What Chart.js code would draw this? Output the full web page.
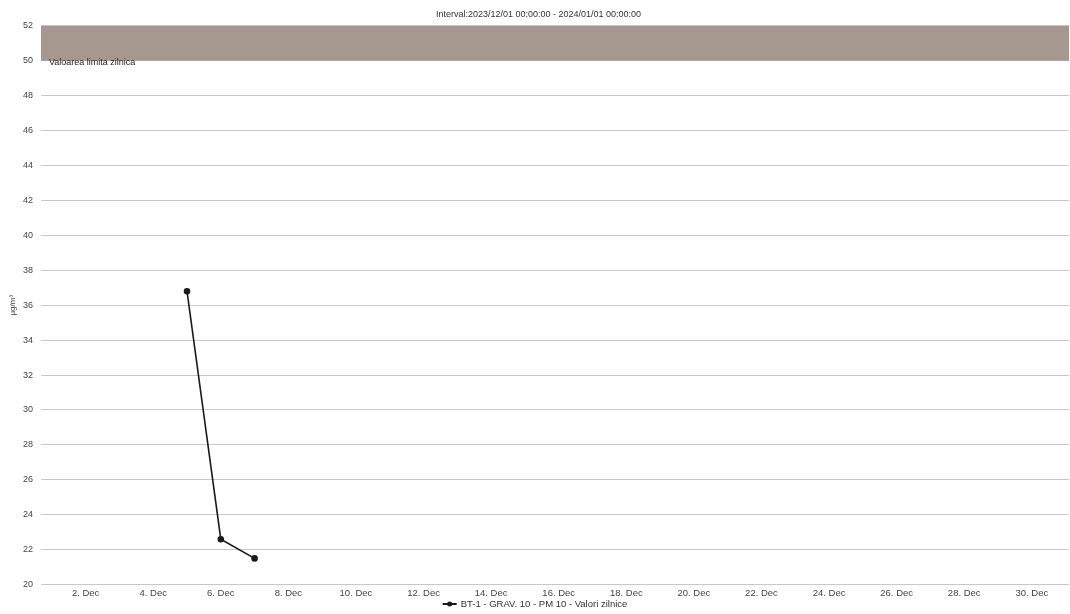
<!DOCTYPE html>
<html>
<head>
<meta charset="utf-8">
<script src="https://cdn.jsdelivr.net/npm/chart.js@4/dist/chart.umd.min.js"></script>
<style>
  html, body { margin: 0; padding: 0; background: #fff; overflow: hidden; }
  #wrap { width: 1070px; height: 614px; position: relative; }
  canvas { display: block; }
</style>
</head>
<body>
<div id="wrap"><canvas id="pmChart"></canvas></div>
<script>
// ---- data ----
const days = [5, 6, 7];                 // day of December
const pm10 = [36.8, 22.6, 21.5];        // µg/m³
const tickDays = [2, 4, 6, 8, 10, 12, 14, 16, 18, 20, 22, 24, 26, 28, 30];
const limitBand = [50, 52];             // shaded limit zone
const xRange = [0.68, 31.1];
const yRange = [20, 52];

const seriesLabel = 'BT-1 - GRAV. 10 - PM 10 - Valori zilnice';
const bandLabel = 'Valoarea limita zilnica';
const titleText = 'Interval:2023/12/01 00:00:00 - 2024/01/01 00:00:00';

const FONT = '"Liberation Sans", Arial, sans-serif';
Chart.defaults.font.family = FONT;
Chart.defaults.color = '#444';

// label drawn at the bottom-left of the limit band
const bandText = {
  id: 'bandText',
  afterDatasetsDraw(chart) {
    const { ctx, scales } = chart;
    ctx.save();
    ctx.font = '9px ' + FONT;
    ctx.fillStyle = '#222';
    ctx.textBaseline = 'middle';
    ctx.fillText(bandLabel, scales.x.getPixelForValue(xRange[0]) + 8, scales.y.getPixelForValue(limitBand[0]) + 2);
    ctx.restore();
  }
};

// simple legend under the axis: line + dot + text
const bottomLegend = {
  id: 'bottomLegend',
  afterDraw(chart) {
    const ctx = chart.ctx;
    const y = chart.height - 10;
    ctx.save();
    ctx.font = '9.5px ' + FONT;
    const tw = ctx.measureText(seriesLabel).width;
    const x0 = (chart.width - (tw + 18)) / 2;
    ctx.strokeStyle = '#1a1a1a';
    ctx.lineWidth = 2;
    ctx.beginPath(); ctx.moveTo(x0, y); ctx.lineTo(x0 + 14, y); ctx.stroke();
    ctx.fillStyle = '#1a1a1a';
    ctx.beginPath(); ctx.arc(x0 + 7, y, 2.5, 0, Math.PI * 2); ctx.fill();
    ctx.fillStyle = '#333';
    ctx.textBaseline = 'middle';
    ctx.fillText(seriesLabel, x0 + 18, y);
    ctx.restore();
  }
};

new Chart(document.getElementById('pmChart'), {
  type: 'line',
  data: {
    datasets: [
      {
        label: 'top',
        data: xRange.map(x => ({ x, y: limitBand[1] })),
        borderWidth: 0, pointRadius: 0, fill: false, order: 3
      },
      {
        label: bandLabel,
        data: xRange.map(x => ({ x, y: limitBand[0] })),
        borderWidth: 0, pointRadius: 0, fill: '-1',
        backgroundColor: '#a6988f', order: 2
      },
      {
        label: seriesLabel,
        data: days.map((d, i) => ({ x: d, y: pm10[i] })),
        borderColor: '#1a1a1a', backgroundColor: '#1a1a1a',
        borderWidth: 1.6, pointRadius: 2.5, pointHoverRadius: 2.5,
        tension: 0, fill: false, order: 1
      }
    ]
  },
  options: {
    responsive: true,
    maintainAspectRatio: false,
    animation: false,
    layout: { autoPadding: false, padding: { left: 8, right: 1, top: 0, bottom: 12 } },
    plugins: {
      title: {
        display: true, text: titleText, color: '#333',
        font: { size: 9, weight: 'normal' },
        padding: { top: 9, bottom: 6 }
      },
      legend: { display: false },
      tooltip: { enabled: false }
    },
    scales: {
      x: {
        type: 'linear',
        min: xRange[0], max: xRange[1],
        afterBuildTicks: s => { s.ticks = tickDays.map(v => ({ value: v })); },
        ticks: { callback: v => v + '. Dec', font: { size: 9.5 }, color: '#444', padding: 3, maxRotation: 0 },
        grid: { display: false, drawTicks: false, tickLength: 0 },
        border: { display: false }
      },
      y: {
        min: yRange[0], max: yRange[1],
        ticks: { stepSize: 2, font: { size: 9 }, color: '#444', padding: 8 },
        grid: { color: '#c8c8c8', lineWidth: 1, drawTicks: false },
        border: { display: false },
        title: { display: true, text: 'µg/m³', font: { size: 8 }, color: '#444', padding: 0 },
        afterFit: s => { s.width = 33; }
      }
    }
  },
  plugins: [bandText, bottomLegend]
});
</script>
</body>
</html>
